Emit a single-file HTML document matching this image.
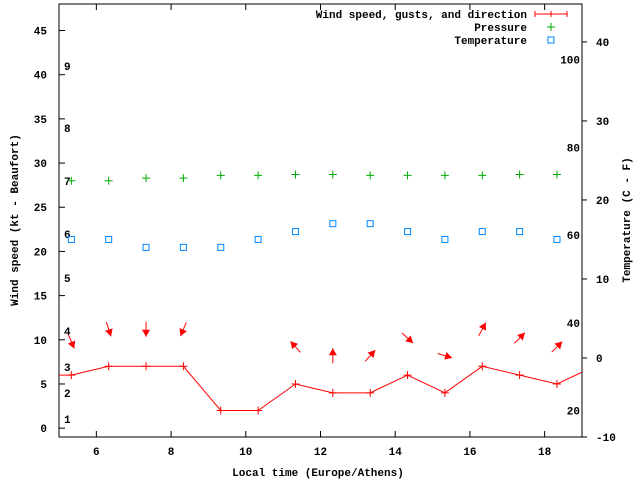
<!DOCTYPE html>
<html><head><meta charset="utf-8"><style>
body{margin:0;background:#fff}
svg text{font-family:"Liberation Mono","DejaVu Sans Mono",monospace;font-size:11px;font-weight:bold;fill:#000}
</style></head><body>
<svg id="c" width="640" height="480" xmlns="http://www.w3.org/2000/svg"></svg>
<script>
const hours=[4.33,5.33,6.33,7.33,8.33,9.33,10.33,11.33,12.33,13.33,14.33,15.33,16.33,17.33,18.33,19.33];
const windSpeed=[6,6,7,7,7,2,2,5,4,4,6,4,7,6,5,7];
const ptHours=[5.33,6.33,7.33,8.33,9.33,10.33,11.33,12.33,13.33,14.33,15.33,16.33,17.33,18.33];
const pressure=[28.0,28.0,28.3,28.3,28.6,28.6,28.7,28.7,28.6,28.6,28.6,28.6,28.7,28.7];
const temperature=[15,15,14,14,14,15,16,17,17,16,15,16,16,15];
const arrowHours=[5.33,6.33,7.33,8.33,11.33,12.33,13.33,14.33,15.33,16.33,17.33,18.33];
const arrowSpeed=[5.6,7,7,7,5,4,4,6,4,7,6,5];
const arrowBearing=[157,162,180,203,318,0,42,132,107,28,45,45];
const xTicks=[6,8,10,12,14,16,18];
const yTicks=[0,5,10,15,20,25,30,35,40,45];
const y2Ticks=[-10,0,10,20,30,40];
const fTicks=[20,40,60,80,100];
const bft=[[1,419],[2,393],[3,367],[4,331],[5,278],[6,234],[7,181],[8,128],[9,66]];

const L=59,R=582,T=4,B=437;
const X=v=>L+(v-5)*(R-L)/14;
const Y=v=>B-(v+1)*(B-T)/49;
const Y2=c=>B-(c+10)*(B-T)/54.8;
const NS="http://www.w3.org/2000/svg";
const svg=document.getElementById('c');
function mk(tag,attrs,parent){const e=document.createElementNS(NS,tag);for(const k in attrs)e.setAttribute(k,attrs[k]);(parent||svg).appendChild(e);return e;}

// clip
const defs=mk('defs',{});const cp=mk('clipPath',{id:'pc'},defs);mk('rect',{x:L,y:T,width:R-L,height:B-T},cp);

// frame
const frame=mk('rect',{x:L,y:T,width:R-L,height:B-T,fill:'none',stroke:'#000','stroke-width':1});



yTicks.forEach(v=>{const y=Y(v);
 const t=mk('line',{x1:L,x2:L+6,y1:y,y2:y,stroke:'#000'});
 
 
 const tx=mk('text',{x:L-12,y:y+4,'text-anchor':'end'});tx.textContent=v;
 
 
});
xTicks.forEach(v=>{const x=X(v);
 const t=mk('line',{x1:x,x2:x,y1:B,y2:B-6,stroke:'#000'});
 
 
 const t2=mk('line',{x1:x,x2:x,y1:T,y2:T+6,stroke:'#000'});
 
 
 const tx=mk('text',{x:x,y:B+18,'text-anchor':'middle'});tx.textContent=v;
 
 
});
y2Ticks.forEach(v=>{const y=Y2(v);
 const t=mk('line',{x1:R,x2:R+5,y1:y,y2:y,stroke:'#000'});
 
 
 const tx=mk('text',{x:R+14,y:y+4,'text-anchor':'start'});tx.textContent=v;
 
 
});
fTicks.forEach(f=>{const c=(f-32)*5/9;
 const tx=mk('text',{x:R-2,y:Y2(c)+4,'text-anchor':'end'});tx.textContent=f;
 
 
});
bft.forEach(b=>{
 const tx=mk('text',{x:64,y:b[1]+4});tx.textContent=b[0];
 
 
});

const g=mk('g',{'clip-path':'url(#pc)'});
// wind line
const pl=mk('polyline',{points:hours.map((h,i)=>X(h)+','+Y(windSpeed[i])).join(' '),fill:'none',stroke:'#f00','stroke-width':1},g);


hours.forEach((h,i)=>{const x=X(h),y=Y(windSpeed[i]);
 const p=mk('path',{d:`M${x-4},${y}H${x+4}M${x},${y-4}V${y+4}`,stroke:'#f00'},g);
 
 
});
// pressure
ptHours.forEach((h,i)=>{const x=X(h),y=Y(pressure[i]);
 const p=mk('path',{d:`M${x-4},${y}H${x+4}M${x},${y-4}V${y+4}`,stroke:'#0a0'},g);
 
 
});
// temperature
ptHours.forEach((h,i)=>{const x=X(h),y=Y2(temperature[i]);
 const r=mk('rect',{x:x-3,y:y-3,width:6,height:6,fill:'none',stroke:'#08f'},g);
 
 
});
// arrows
arrowHours.forEach((h,i)=>{const cx=X(h),cy=Y(arrowSpeed[i]+4.2);
 const a=arrowBearing[i]*Math.PI/180,dx=Math.sin(a),dy=-Math.cos(a),len=15;
 const tx=cx-dx*len/2,ty=cy-dy*len/2,hx=cx+dx*len/2,hy=cy+dy*len/2;
 const px=-dy,py=dx;
 const grp=mk('g',{},g);
 
 
 mk('line',{x1:tx,y1:ty,x2:hx,y2:hy,stroke:'#f00'},grp);
 mk('polygon',{points:`${hx},${hy} ${hx-dx*7+px*4},${hy-dy*7+py*4} ${hx-dx*7-px*4},${hy-dy*7-py*4}`,fill:'#f00'},grp);
});

// legend
const lg=mk('g',{});


[['Wind speed, gusts, and direction',14],['Pressure',27],['Temperature',40]].forEach(e=>{
 const t=mk('text',{x:527,y:e[1]+4,'text-anchor':'end'},lg);t.textContent=e[0];
 
 
});
mk('path',{d:'M535,14H567M535,11V17M567,11V17M551,11V17',stroke:'#f00'},lg);
mk('path',{d:'M547,27H555M551,23V31',stroke:'#0a0'},lg);
mk('rect',{x:548,y:37,width:6,height:6,fill:'none',stroke:'#08f'},lg);

const xl=mk('text',{x:318,y:476,'text-anchor':'middle'});xl.textContent='Local time (Europe/Athens)';


const yl=mk('text',{x:0,y:0,'text-anchor':'middle',transform:'translate(18,220) rotate(-90)'});yl.textContent='Wind speed (kt - Beaufort)';


const y2l=mk('text',{x:0,y:0,'text-anchor':'middle',transform:'translate(630,220) rotate(-90)'});y2l.textContent='Temperature (C - F)';


</script>
</body></html>
